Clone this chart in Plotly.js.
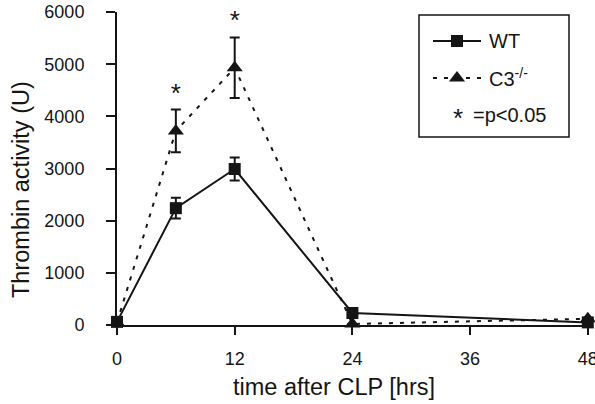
<!DOCTYPE html>
<html>
<head>
<meta charset="utf-8">
<script src="https://cdn.plot.ly/plotly-3.0.1.min.js"></script>
<style>html,body{margin:0;padding:0;background:#fff;}#chart{width:595px;height:404px;}</style>
</head>
<body>
<div id="chart"></div>
<script>
// ---- data ----
const timeHrs = [0, 6, 12, 24, 48];
const wtValues = [60, 2240, 2990, 230, 50];
const wtErrors = [0, 200, 220, 0, 0];
const c3Values = [50, 3720, 4930, 20, 120];
const c3Errors = [0, 410, 580, 0, 0];
const sigTimes = [6, 12];
const sigY = [4400, 5800];
const xTicks = [0, 12, 24, 36, 48];
const yTicks = [0, 1000, 2000, 3000, 4000, 5000, 6000];
const xTitle = 'time after CLP [hrs]';
const yTitle = 'Thrombin activity (U)';

const FONT = 'Liberation Sans, Arial, Helvetica, sans-serif';
const INK = '#151515';

// plot-area geometry (px) used to place the hand-drawn legend and titles
const L = 117, R = 7, T = 12, B = 79, W = 595, H = 404;
const pw = W - L - R, ph = H - T - B;
const px = x => (x - L) / pw;
const py = y => 1 - (y - T) / ph;

const traces = [
  {
    x: timeHrs, y: wtValues, type: 'scatter', mode: 'lines+markers', name: 'WT',
    line: {color: INK, width: 2},
    marker: {symbol: 'square', size: 12, color: INK},
    error_y: {type: 'data', array: wtErrors, visible: true, color: INK, thickness: 2, width: 5},
    cliponaxis: false, showlegend: false
  },
  {
    x: timeHrs, y: c3Values, type: 'scatter', mode: 'lines+markers', name: 'C3-/-',
    line: {color: INK, width: 2, dash: '4px,7px'},
    marker: {symbol: 'triangle-up', size: 14, color: INK},
    error_y: {type: 'data', array: c3Errors, visible: true, color: INK, thickness: 2, width: 5},
    cliponaxis: false, showlegend: false
  },
  {
    x: sigTimes, y: sigY, type: 'scatter', mode: 'text', text: sigTimes.map(() => '*'),
    textfont: {family: FONT, size: 26, color: INK}, textposition: 'middle center',
    cliponaxis: false, showlegend: false, hoverinfo: 'skip'
  },
  // legend symbols (on an overlay axis spanning the plot area 0..1)
  {
    x: [px(457)], y: [py(41)], xaxis: 'x2', yaxis: 'y2', type: 'scatter', mode: 'markers',
    marker: {symbol: 'square', size: 12, color: INK}, showlegend: false, cliponaxis: false, hoverinfo: 'skip'
  },
  {
    x: [px(457)], y: [py(78)], xaxis: 'x2', yaxis: 'y2', type: 'scatter', mode: 'markers',
    marker: {symbol: 'triangle-up', size: 14, color: INK}, showlegend: false, cliponaxis: false, hoverinfo: 'skip'
  }
];

const axisCommon = {
  showline: true, linecolor: INK, linewidth: 2,
  ticks: 'outside', tickcolor: INK, tickwidth: 2,
  showgrid: false, zeroline: false,
  tickfont: {family: FONT, size: 18, color: INK},
  ticklabeloverflow: 'allow'
};

const layout = {
  width: W, height: H,
  margin: {l: L, r: R, t: T, b: B, pad: 0},
  paper_bgcolor: '#fff', plot_bgcolor: '#fff',
  showlegend: false,
  xaxis: Object.assign({}, axisCommon, {
    range: [0, 48.02], tickmode: 'array', tickvals: xTicks, ticktext: xTicks.map(String),
    ticklen: 8, ticklabelstandoff: 8
  }),
  yaxis: Object.assign({}, axisCommon, {
    range: [0, 6000.5], tickmode: 'array', tickvals: yTicks, ticktext: yTicks.map(String),
    ticklen: 9, ticklabelstandoff: 18
  }),
  xaxis2: {overlaying: 'x', range: [0, 1], visible: false, fixedrange: true},
  yaxis2: {overlaying: 'y', range: [0, 1], visible: false, fixedrange: true},
  shapes: [
    {type: 'rect', xref: 'paper', yref: 'paper', x0: px(419), x1: px(569), y0: py(137), y1: py(15),
     line: {color: INK, width: 1.5}, fillcolor: 'rgba(0,0,0,0)'},
    {type: 'line', xref: 'paper', yref: 'paper', x0: px(433), x1: px(481), y0: py(41), y1: py(41),
     line: {color: INK, width: 2}},
    {type: 'line', xref: 'paper', yref: 'paper', x0: px(433), x1: px(481), y0: py(78), y1: py(78),
     line: {color: INK, width: 2, dash: '4px,7px'}}
  ],
  annotations: [
    {xref: 'paper', yref: 'paper', x: px(487), y: py(41), xanchor: 'left', yanchor: 'middle',
     text: 'WT', showarrow: false, font: {family: FONT, size: 20, color: INK}},
    {xref: 'paper', yref: 'paper', x: px(487), y: py(78), xanchor: 'left', yanchor: 'middle',
     text: 'C3<sup>-/-</sup>', showarrow: false, font: {family: FONT, size: 20, color: INK}},
    {xref: 'paper', yref: 'paper', x: px(458), y: py(118), xanchor: 'center', yanchor: 'middle',
     text: '*', showarrow: false, font: {family: FONT, size: 26, color: INK}},
    {xref: 'paper', yref: 'paper', x: px(471), y: py(115), xanchor: 'left', yanchor: 'middle',
     text: '=p<0.05', showarrow: false, font: {family: FONT, size: 20, color: INK}},
    // axis titles
    {xref: 'paper', yref: 'paper', x: px(334), y: py(387), xanchor: 'center', yanchor: 'middle',
     text: xTitle, showarrow: false, font: {family: FONT, size: 23.5, color: INK}},
    {xref: 'paper', yref: 'paper', x: px(21), y: py(190), xanchor: 'center', yanchor: 'middle',
     text: yTitle, textangle: -90, showarrow: false, font: {family: FONT, size: 23.5, color: INK}}
  ]
};

Plotly.newPlot('chart', traces, layout, {staticPlot: true, displayModeBar: false});
</script>
</body>
</html>
